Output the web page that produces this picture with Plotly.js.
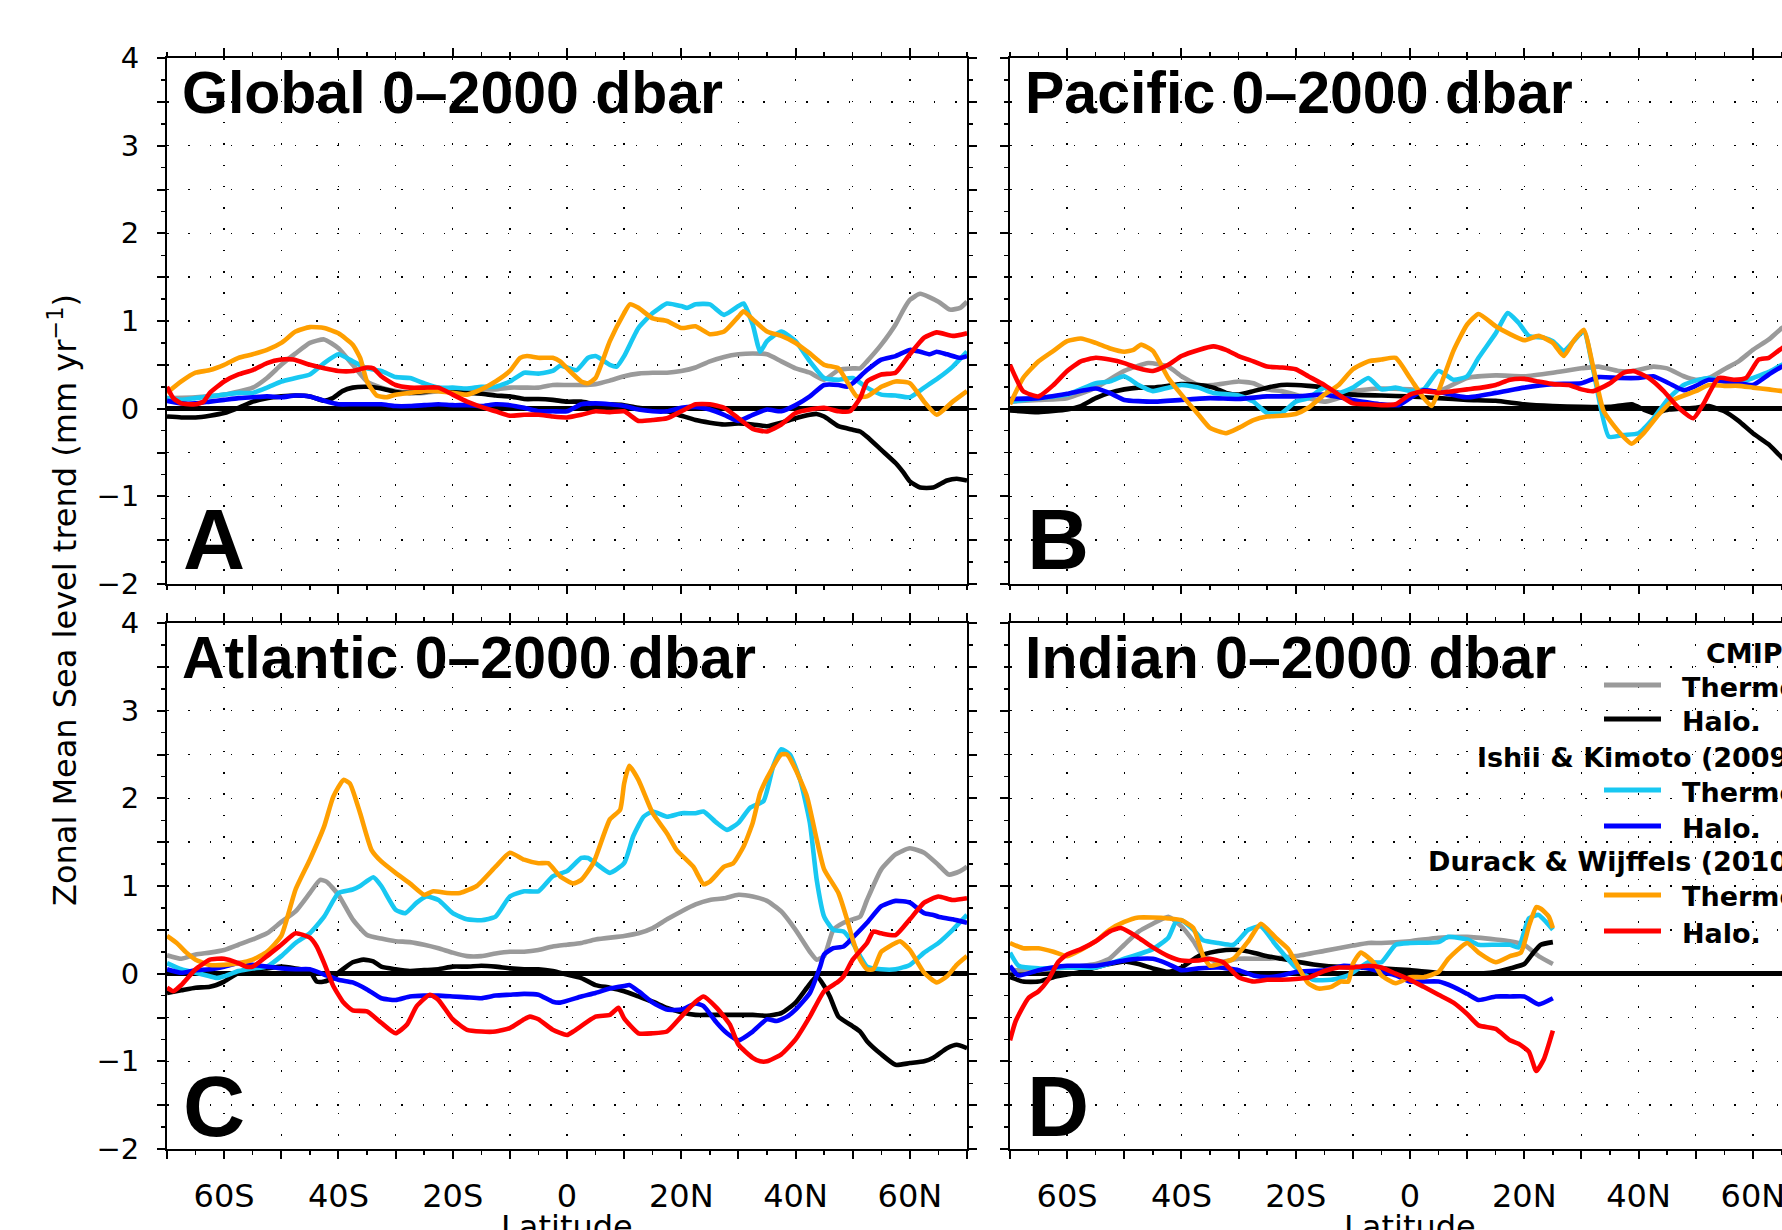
<!DOCTYPE html>
<html>
<head>
<meta charset="utf-8">
<script src="https://cdn.plot.ly/plotly-3.0.1.min.js"></script>
<style>
html,body{margin:0;padding:0;overflow:hidden;background:#fff;}
#chart{width:1850px;height:1300px;}
</style>
</head>
<body>
<div id="chart"></div>
<script>
// ---------------- DATA: [latitude, trend (mm/yr)] ----------------
// Panel A: Global 0-2000 dbar
const gCmipThermo = [[-70,.12],[-65,.13],[-60,.16],[-55,.24],[-52.5,.35],[-50,.5],[-47.5,.63],[-45,.75],[-42.5,.79],[-40,.69],[-37.5,.5],[-35,.31],[-32.5,.24],[-30,.2],[-27.5,.18],[-25,.18],[-22.5,.2],[-20,.2],[-17.5,.2],[-15,.22],[-12.5,.22],[-10,.24],[-7.5,.24],[-5,.24],[-2.5,.27],[0,.27],[2.5,.27],[5,.28],[7.5,.32],[10,.37],[12.5,.4],[15,.41],[17.5,.41],[20,.43],[22.5,.47],[25,.54],[27.5,.59],[30,.62],[32.5,.63],[35,.62],[37.5,.54],[40,.46],[42.5,.41],[45,.33],[47.5,.44],[50,.46],[51.3,.46],[52.5,.54],[55,.73],[57.5,.96],[58.9,1.13],[60,1.24],[61.8,1.31],[65,1.22],[67,1.13],[68.8,1.15],[70,1.22]];
const gCmipHalo = [[-70,-.09],[-67.5,-.1],[-65,-.1],[-62.5,-.08],[-60,-.05],[-57.5,.01],[-55,.08],[-52.5,.12],[-50,.14],[-47.5,.15],[-45,.14],[-42.5,.09],[-41,.12],[-39.3,.2],[-37.5,.24],[-35,.25],[-32.5,.23],[-30,.19],[-27.5,.18],[-25,.19],[-22.5,.21],[-20,.2],[-17.5,.18],[-15,.17],[-12.5,.15],[-10,.14],[-7.5,.11],[-5,.11],[-2.5,.1],[0,.08],[2.5,.08],[5,.05],[7.5,.05],[10,.04],[12.5,.01],[15,-.01],[17.5,-.03],[20,-.08],[22.5,-.13],[25,-.16],[27.5,-.18],[30,-.17],[32.5,-.18],[35,-.2],[37.5,-.16],[40,-.11],[42.5,-.07],[43.7,-.06],[45,-.09],[47.5,-.2],[50,-.24],[51.3,-.26],[52.5,-.32],[55,-.47],[57.5,-.62],[58.9,-.73],[60,-.83],[61.8,-.9],[64.1,-.9],[66.5,-.82],[68.2,-.8],[70,-.82]];
const gIkThermo = [[-70,.12],[-67.5,.1],[-65,.12],[-62.5,.14],[-60,.16],[-57.5,.18],[-55,.18],[-52.5,.24],[-50,.31],[-47.5,.35],[-45,.39],[-42.5,.52],[-40,.62],[-37.5,.54],[-35,.46],[-32.5,.43],[-30,.36],[-27.5,.35],[-25,.29],[-22.5,.24],[-20,.24],[-17.5,.23],[-15,.25],[-12.5,.25],[-10,.31],[-7.5,.41],[-5,.4],[-2.5,.43],[-1.2,.49],[0,.47],[1.7,.44],[3.7,.58],[5,.6],[7.5,.5],[8.7,.48],[10,.6],[12.5,.92],[15,1.09],[17.5,1.2],[20,1.17],[21,1.15],[22.5,1.19],[25,1.19],[27.5,1.07],[30,1.17],[30.9,1.2],[32.5,.96],[33.8,.65],[35,.77],[37.5,.88],[40,.77],[42.5,.54],[45,.35],[47.5,.33],[50,.35],[52.5,.24],[55,.16],[57.5,.15],[60,.13],[62.5,.24],[65,.35],[67.5,.48],[70,.65]];
const gIkHalo = [[-70,.09],[-67.5,.06],[-65,.06],[-62.5,.08],[-60,.1],[-57.5,.12],[-55,.13],[-52.5,.14],[-50,.13],[-47.5,.15],[-45,.14],[-42.5,.09],[-40,.05],[-37.5,.05],[-35,.05],[-32.5,.05],[-30,.03],[-27.5,.03],[-25,.04],[-22.5,.05],[-20,.04],[-17.5,.04],[-15,.03],[-12.5,.05],[-10,.04],[-7.5,.01],[-5,-.03],[-2.5,-.03],[0,-.03],[2.5,.05],[5,.06],[7.5,.05],[10,.03],[12.5,-.01],[15,-.03],[17.5,-.03],[20,.01],[22.5,.02],[25,-.01],[27.5,-.07],[30,-.14],[32.5,-.07],[35,-.01],[37.5,-.03],[40,.04],[42.5,.14],[45,.27],[47.5,.27],[49,.25],[50,.29],[52.5,.44],[55,.56],[57.5,.6],[60,.67],[61.8,.65],[63.5,.62],[64.7,.65],[66.5,.62],[68.8,.58],[70,.6]];
const gDwThermo = [[-70,.18],[-67.5,.31],[-65,.41],[-62.5,.44],[-60,.5],[-57.5,.58],[-55,.62],[-52.5,.67],[-50,.75],[-47.5,.88],[-45,.93],[-42.5,.92],[-40,.86],[-37.5,.73],[-36.2,.58],[-35,.31],[-33.3,.15],[-31.6,.13],[-30,.16],[-27.5,.18],[-25,.2],[-22.5,.2],[-20,.18],[-17.5,.16],[-15,.22],[-12.5,.31],[-10,.43],[-8.2,.58],[-7,.6],[-5,.58],[-2.5,.58],[-1.2,.54],[0,.46],[2.5,.31],[3.7,.29],[5,.35],[7.5,.77],[10,1.09],[11,1.19],[12.5,1.15],[15,1.03],[17.5,1.0],[20,.92],[22.5,.94],[25,.85],[27.5,.88],[30,1.05],[30.9,1.11],[32.5,1.02],[35,.88],[37.5,.83],[40,.75],[42.5,.63],[45,.5],[47.5,.46],[49,.31],[50.7,.14],[52.5,.14],[55,.25],[57.5,.31],[60,.29],[62.5,.08],[64.7,-.07],[67.5,.08],[70,.2]];
const gDwHalo = [[-70,.25],[-68.9,.12],[-67.5,.06],[-65,.05],[-63.6,.08],[-62.5,.18],[-60,.31],[-57.5,.39],[-55,.44],[-52.5,.52],[-50,.56],[-47.9,.56],[-45,.5],[-42.5,.46],[-40,.43],[-37.5,.43],[-35,.47],[-33.9,.46],[-32.5,.37],[-30,.27],[-27.5,.24],[-25,.24],[-22.5,.24],[-20,.16],[-17.5,.08],[-15,.02],[-12.5,-.03],[-10,-.08],[-7.5,-.07],[-5,-.07],[-2.5,-.09],[0,-.1],[2.5,-.07],[5,-.03],[7.5,-.04],[10,-.03],[12.5,-.14],[15,-.13],[17.5,-.11],[20,-.03],[22.5,.05],[25,.05],[27.5,.01],[30,-.11],[32.5,-.23],[35,-.26],[37.5,-.18],[40,-.05],[42.5,-.01],[45,.01],[47.5,-.03],[49.5,-.03],[51.3,.12],[52.5,.31],[55,.39],[57.5,.41],[60,.62],[62.5,.81],[64.7,.87],[67.5,.83],[70,.86]];

// Panel B: Pacific 0-2000 dbar
const pCmipThermo = [[-70,.08],[-65,.1],[-60,.12],[-55,.24],[-50,.43],[-45.8,.52],[-42.3,.48],[-40,.37],[-37,.27],[-34.4,.27],[-30,.31],[-27.4,.29],[-25,.22],[-22.5,.2],[-20,.16],[-17.8,.12],[-15,.08],[-12.5,.12],[-10,.2],[-5,.23],[0,.22],[5,.2],[10,.35],[15,.38],[20,.37],[25,.41],[30,.46],[33,.48],[36.5,.43],[39.1,.43],[42.6,.48],[45,.46],[47.9,.37],[50,.33],[52.3,.35],[55,.45],[57.5,.54],[60,.67],[62.8,.79],[65.1,.92],[67.5,1.0],[70,1.05]];
const pCmipHalo = [[-70,-.02],[-65,-.04],[-60,-.01],[-57.6,.03],[-55,.12],[-52.6,.18],[-50,.22],[-47.5,.24],[-45,.24],[-42.3,.26],[-40,.28],[-37,.27],[-34.4,.24],[-32.2,.18],[-30,.16],[-27.4,.2],[-25,.24],[-22.5,.27],[-20,.27],[-17.8,.26],[-15,.24],[-12.5,.18],[-10,.16],[-5,.15],[0,.14],[5,.12],[10,.1],[15,.09],[20,.05],[25,.03],[30,.02],[35,.02],[38.8,.05],[40.9,-.01],[42.6,-.05],[45.3,-.01],[50,.01],[52.3,.03],[55,-.03],[57.5,-.14],[60,-.28],[62.8,-.41],[65.1,-.56],[67.5,-.68],[70,-.78]];
const pIkThermo = [[-70,.08],[-65,.12],[-60,.16],[-55,.29],[-52.6,.31],[-50,.37],[-47.5,.27],[-45,.2],[-42.3,.24],[-40,.27],[-37,.24],[-34.4,.18],[-30,.15],[-27.4,.08],[-25,-.05],[-22.5,-.05],[-20,.08],[-17.8,.12],[-15,.24],[-12.5,.18],[-10,.24],[-7.3,.35],[-5,.22],[-2.5,.24],[0,.2],[2.4,.22],[5,.43],[7.6,.33],[10,.37],[12,.58],[15,.86],[17.1,1.09],[19,.98],[20.8,.83],[23.4,.81],[25,.77],[26.9,.66],[30.4,.88],[32.1,.43],[34.8,-.32],[37.4,-.3],[40,-.28],[42.6,-.11],[45.3,.12],[47.9,.27],[50,.32],[52.3,.35],[55,.31],[57.5,.29],[60,.35],[62.8,.42],[65.1,.5],[67.5,.55],[70,.6]];
const pIkHalo = [[-70,.11],[-65,.12],[-60,.17],[-55,.23],[-52.6,.18],[-50,.1],[-45,.08],[-40,.1],[-35,.12],[-30,.11],[-25,.14],[-20,.14],[-15,.16],[-10,.1],[-5,.05],[-2,.04],[0,.12],[2.4,.21],[5,.19],[10,.13],[15,.18],[20,.24],[25,.28],[30,.29],[33,.36],[36.5,.35],[40,.35],[42.6,.37],[45.3,.29],[47.9,.21],[50,.26],[52.3,.33],[55,.31],[57.5,.29],[60,.27],[62.8,.39],[65.1,.48],[67.5,.52],[70,.55]];
const pDwThermo = [[-70,.05],[-67.7,.35],[-65,.54],[-62.4,.66],[-60,.77],[-57.6,.8],[-55,.75],[-52.6,.69],[-50,.65],[-48.4,.67],[-47.1,.73],[-45,.66],[-42.3,.35],[-40,.16],[-37,-.07],[-35,-.22],[-32.2,-.28],[-30,-.22],[-27.4,-.13],[-25,-.09],[-22.5,-.08],[-20,-.06],[-17.8,.01],[-15,.16],[-12.5,.27],[-10,.45],[-7.3,.54],[-5,.56],[-2.5,.58],[0,.35],[2.4,.12],[3.8,.03],[5,.2],[7.6,.66],[10,.96],[12,1.08],[15,.94],[17.5,.85],[20,.78],[22.5,.83],[25,.75],[26.9,.6],[28.6,.77],[30.4,.9],[32.1,.46],[33.9,-.03],[36.5,-.26],[38.8,-.4],[40.9,-.28],[43.5,-.07],[46.1,.1],[50,.2],[52.3,.27],[55,.26],[57.5,.26],[60,.24],[62.8,.22],[65.1,.2],[67.5,.2],[70,.2]];
const pDwHalo = [[-70,.5],[-67.7,.2],[-65,.14],[-62.4,.27],[-60,.43],[-57.6,.54],[-55,.58],[-52.6,.56],[-50,.52],[-47.5,.46],[-45,.43],[-42.3,.5],[-40,.6],[-37,.67],[-34.4,.71],[-32.2,.67],[-30,.6],[-27.4,.54],[-25,.48],[-22.5,.47],[-20,.45],[-17.8,.37],[-15,.27],[-12.5,.16],[-10,.06],[-7.3,.05],[-5,.04],[-2.5,.05],[0,.16],[2.4,.2],[5,.18],[7.6,.2],[10,.22],[12.5,.24],[15,.27],[17.5,.33],[20,.34],[22.5,.31],[25,.28],[27.8,.27],[30,.22],[32.1,.2],[35,.29],[37.4,.41],[39.1,.43],[41.8,.35],[44.4,.2],[47,.01],[49.6,-.11],[51.4,.06],[54,.35],[56.7,.33],[58.8,.35],[61,.56],[62.8,.58],[65.1,.69],[67.5,.75],[70,.8]];

// Panel C: Atlantic 0-2000 dbar
const aCmipThermo = [[-70,.21],[-67.5,.17],[-65,.22],[-62.5,.24],[-60,.27],[-57.5,.33],[-55,.39],[-52.5,.46],[-50,.59],[-47.5,.71],[-45,.92],[-43.2,1.07],[-42.1,1.05],[-40,.9],[-37.5,.62],[-35,.44],[-32.5,.4],[-30,.37],[-27.5,.36],[-25,.33],[-22.5,.29],[-20,.24],[-17.5,.2],[-15,.2],[-12.5,.23],[-10,.25],[-7.5,.25],[-5,.27],[-2.5,.31],[0,.33],[2.5,.35],[5,.39],[10,.43],[12.5,.46],[15,.52],[17.5,.62],[20,.71],[22.5,.79],[25,.84],[27.5,.86],[30,.9],[32.5,.88],[35,.83],[37.5,.71],[40,.5],[42.5,.25],[43.7,.16],[45,.2],[46.6,.5],[48.4,.58],[50,.62],[51.3,.65],[52.5,.84],[55,1.19],[57.5,1.36],[60,1.43],[62.5,1.38],[65,1.24],[66.8,1.13],[68.8,1.17],[70,1.22]];
const aCmipHalo = [[-70,-.22],[-67.5,-.19],[-65,-.16],[-62.5,-.15],[-60,-.09],[-57.5,.01],[-55,.05],[-52.5,.06],[-50,.08],[-47.5,.06],[-45,.03],[-43.8,-.09],[-42.5,-.09],[-40.9,-.05],[-40,.01],[-37.5,.13],[-35.6,.16],[-33.9,.14],[-32.5,.08],[-30,.05],[-27.5,.03],[-25,.04],[-22.5,.05],[-20,.08],[-17.5,.08],[-15,.09],[-12.5,.08],[-10,.06],[-7.5,.05],[-5,.05],[-2.5,.03],[0,-.01],[2.5,-.05],[5,-.13],[7.5,-.16],[10,-.2],[12.5,-.26],[15,-.32],[17.5,-.39],[20,-.44],[22.5,-.47],[25,-.47],[27.5,-.47],[30,-.47],[32.5,-.47],[35,-.48],[37.5,-.45],[40,-.33],[42,-.16],[43.7,-.03],[45,-.14],[46,-.26],[47.5,-.49],[50,-.6],[51.3,-.66],[52.5,-.77],[55,-.92],[57.5,-1.04],[60,-1.02],[62.5,-1.0],[64.1,-.96],[66.5,-.85],[68.2,-.81],[70,-.85]];
const aIkThermo = [[-70,.12],[-67.5,.05],[-65,.01],[-62.5,-.03],[-61.3,-.05],[-60,-.03],[-57.5,.03],[-55,.06],[-52.5,.08],[-50,.2],[-47.5,.35],[-45,.46],[-42.5,.65],[-40,.92],[-37.5,.96],[-36.2,1.0],[-33.9,1.1],[-32.5,1.0],[-30,.73],[-28.3,.69],[-26.3,.81],[-24.6,.88],[-22.5,.84],[-20,.69],[-17.5,.62],[-15,.61],[-12.5,.65],[-10,.88],[-7.5,.94],[-5,.94],[-2.5,1.11],[0,1.17],[2.5,1.32],[3.7,1.32],[5,1.26],[7.5,1.15],[10,1.26],[11.6,1.57],[13.4,1.79],[15,1.85],[17.5,1.79],[20,1.83],[22.5,1.83],[23.9,1.85],[26.2,1.72],[28,1.64],[30,1.72],[32,1.89],[34.4,1.97],[36.1,2.37],[37.5,2.56],[39,2.5],[40.8,2.21],[42.5,1.72],[43.7,1.07],[45,.65],[46.6,.5],[48.4,.48],[50,.35],[51.3,.2],[52.5,.08],[55,.05],[57.5,.05],[60,.1],[62.5,.24],[65,.35],[67.5,.5],[70,.67]];
const aIkHalo = [[-70,.05],[-67.5,.01],[-65,.04],[-62.5,.05],[-60,.08],[-57.5,.12],[-55,.1],[-52.5,.08],[-50,.06],[-47.5,.05],[-45,.05],[-42.5,-.01],[-40,-.07],[-37.5,-.1],[-35,-.18],[-32.5,-.28],[-30,-.3],[-27.5,-.26],[-25,-.25],[-22.5,-.25],[-20,-.26],[-17.5,-.27],[-15,-.28],[-12.5,-.25],[-10,-.24],[-7.5,-.23],[-5,-.24],[-2.5,-.32],[-1.2,-.33],[2.5,-.26],[5,-.22],[7.5,-.17],[10,-.14],[10.9,-.13],[12.5,-.2],[15,-.33],[17.5,-.41],[20,-.41],[22.5,-.34],[23.9,-.37],[26.2,-.56],[28,-.68],[30,-.76],[32.5,-.66],[35,-.52],[36.7,-.54],[38.5,-.49],[40,-.41],[42.5,-.22],[44.3,.08],[45,.22],[46.6,.29],[48.4,.31],[50,.41],[52.5,.58],[55,.77],[57.5,.83],[60,.81],[62.5,.69],[64.1,.67],[65,.65],[67.5,.62],[70,.58]];
const aDwThermo = [[-70,.43],[-68.3,.35],[-66.6,.24],[-65,.16],[-62.5,.1],[-60,.1],[-57.5,.12],[-55,.16],[-52.5,.25],[-50,.43],[-47.5,.96],[-45,1.3],[-42.5,1.68],[-40.9,2.02],[-39.1,2.21],[-38,2.17],[-36.2,1.83],[-34.2,1.41],[-32.5,1.28],[-30,1.15],[-27.5,1.03],[-25,.9],[-23.4,.94],[-21,.92],[-18.7,.92],[-15.8,1.0],[-12.5,1.22],[-10,1.38],[-7.5,1.3],[-5,1.26],[-3.3,1.26],[-1.2,1.11],[1.1,1.03],[2.5,1.07],[4.6,1.26],[7.5,1.76],[9.3,1.87],[10,2.17],[10.9,2.37],[12.5,2.21],[15,1.83],[17.5,1.6],[19.2,1.41],[22.1,1.22],[23.9,1.02],[25,1.05],[27.5,1.22],[29.1,1.26],[30.9,1.45],[32.5,1.72],[33.8,2.06],[35,2.23],[37.5,2.5],[38.5,2.5],[40,2.33],[42,2.02],[43.7,1.53],[45,1.19],[47.5,.92],[49,.62],[50,.39],[51.3,.16],[52.5,.05],[53.6,.05],[55,.25],[57.5,.35],[58.3,.37],[60,.27],[62.5,.01],[64.7,-.1],[66.5,-.03],[68.2,.1],[70,.2]];
const aDwHalo = [[-70,-.16],[-68.9,-.2],[-67.5,-.13],[-65,.05],[-62.5,.16],[-60,.17],[-57.5,.12],[-56.1,.08],[-55,.08],[-52.5,.2],[-50,.33],[-47.5,.46],[-45,.41],[-43.8,.31],[-42.5,.12],[-40.9,-.14],[-39.1,-.33],[-37.5,-.42],[-35,-.43],[-32.5,-.56],[-30,-.68],[-28,-.58],[-26.3,-.37],[-24,-.24],[-22.5,-.3],[-20,-.52],[-17.5,-.64],[-15,-.66],[-12.5,-.66],[-10,-.62],[-7.5,-.52],[-6.5,-.49],[-5,-.52],[-2.5,-.64],[0,-.7],[1.1,-.66],[5,-.49],[7.5,-.47],[9,-.39],[10,-.51],[12.5,-.68],[15,-.68],[17.5,-.66],[20,-.49],[22.5,-.32],[23.9,-.26],[26.2,-.39],[28.5,-.58],[30,-.81],[32.5,-.96],[33.8,-1.0],[35,-1.0],[37.5,-.92],[40,-.75],[42.5,-.49],[45,-.2],[47.5,-.09],[48.4,-.03],[50,.16],[52.5,.35],[53.6,.48],[55,.46],[57.5,.44],[60,.62],[62.5,.81],[65,.88],[67.5,.84],[70,.86]];

// Panel D: Indian 0-2000 dbar
const iCmipThermo = [[-70,.04],[-65,.04],[-60,.07],[-55,.11],[-52.6,.17],[-50,.33],[-47.5,.48],[-45,.57],[-42.3,.65],[-40,.54],[-37.9,.37],[-36.2,.2],[-33.5,.13],[-30,.17],[-25,.17],[-20,.2],[-15,.26],[-10,.32],[-7.3,.35],[-5,.35],[0,.37],[5,.41],[10,.42],[15,.39],[17.5,.37],[20,.33],[22.5,.2],[25,.11]];
const iCmipHalo = [[-70,-.04],[-67.7,-.09],[-65,-.09],[-62.4,-.04],[-60,-.01],[-57.6,.02],[-55,.07],[-52.6,.11],[-50,.14],[-47.5,.11],[-45,.06],[-42.3,.02],[-40,.07],[-37,.2],[-35,.24],[-32.2,.27],[-30,.27],[-27.4,.24],[-25,.2],[-22.5,.17],[-20,.14],[-15,.09],[-10,.07],[-5,.06],[0,.04],[5,.01],[10,0],[15,.02],[17.5,.06],[20,.11],[21.6,.24],[22.9,.33],[25,.36]];
const iIkThermo = [[-70,.24],[-68.5,.09],[-65,.06],[-60,.07],[-55,.07],[-50,.17],[-45,.28],[-42.3,.41],[-41,.59],[-40,.61],[-37.9,.5],[-36.2,.38],[-33.5,.35],[-30.9,.33],[-28.3,.5],[-26.1,.54],[-23.5,.33],[-20,.07],[-16.9,-.07],[-13.8,-.07],[-10.8,-.02],[-7.3,.13],[-5,.13],[-2.5,.33],[0,.35],[5,.36],[6.7,.42],[10,.39],[12,.33],[15,.33],[17.5,.33],[19,.3],[20.8,.63],[22.5,.67],[23.8,.59],[25,.5]];
const iIkHalo = [[-70,.09],[-68.5,-.02],[-65,.04],[-60,.09],[-55,.09],[-50,.15],[-47.5,.17],[-45,.17],[-42.3,.11],[-40,.04],[-37,.06],[-33.5,.07],[-30,.04],[-27.4,-.02],[-25,-.04],[-22.5,-.02],[-20,.02],[-15,.04],[-11.6,.09],[-7.3,.06],[-5,.02],[-2.5,-.02],[0,-.09],[2.4,-.09],[5,-.09],[7.6,-.15],[10,-.23],[12,-.3],[15,-.26],[17.5,-.26],[20,-.26],[22.5,-.35],[25,-.28]];
const iDwThermo = [[-70,.35],[-67.7,.29],[-65,.29],[-62.4,.25],[-60,.2],[-57.6,.27],[-55,.37],[-52.6,.5],[-50,.59],[-47.5,.64],[-45,.64],[-42.3,.63],[-40,.61],[-37.9,.52],[-36.2,.2],[-35,.09],[-33.5,.11],[-30.9,.17],[-28.3,.37],[-26.1,.57],[-23.5,.41],[-21.3,.28],[-20,.13],[-17.8,-.11],[-16,-.17],[-13.8,-.15],[-12.1,-.09],[-10.8,-.09],[-10,.11],[-8.6,.24],[-6.4,.13],[-5,-.02],[-2.5,-.11],[0,-.04],[2.4,-.04],[5,.02],[6.7,.17],[10,.35],[12,.24],[15,.13],[17.5,.2],[19.4,.24],[20.8,.54],[22.1,.76],[22.9,.74],[24.3,.65],[25,.52]];
const iDwHalo = [[-70,-.76],[-69,-.54],[-66.8,-.28],[-65,-.2],[-63.3,-.07],[-61.6,.13],[-60,.22],[-57.6,.28],[-55,.37],[-52.6,.48],[-50.6,.52],[-47.5,.41],[-45,.3],[-42.3,.2],[-40,.15],[-37,.15],[-35,.17],[-32.7,.13],[-30,-.04],[-27.4,-.09],[-25,-.07],[-22.5,-.07],[-20,-.06],[-17.5,-.04],[-15,.03],[-12.5,.07],[-10,.07],[-7.3,.09],[-5,.07],[-2.5,0],[0,-.07],[2.4,-.15],[5,-.24],[7.6,-.33],[10,-.46],[12,-.59],[15,-.63],[17.5,-.76],[19,-.8],[20.8,-.89],[22.1,-1.11],[23.4,-.98],[25,-.65]];

// Labels
const panelTitles = ['Global 0\u20132000 dbar','Pacific 0\u20132000 dbar','Atlantic 0\u20132000 dbar','Indian 0\u20132000 dbar'];
const panelLetters = ['A','B','C','D'];
const seriesNames = ['Thermo.','Halo.','Thermo.','Halo.','Thermo.','Halo.'];
const groupTitles = ['CMIP5','Ishii & Kimoto (2009)','Durack & Wijffels (2010)'];
const latTickVals = [-70,-60,-50,-40,-30,-20,-10,0,10,20,30,40,50,60,70];
const latTickText = ['','60S','','40S','','20S','','0','','20N','','40N','','60N',''];
const yTickVals = [-2,-1.5,-1,-0.5,0,0.5,1,1.5,2,2.5,3,3.5,4];
const yTickText = ['\u22122','','\u22121','','0','','1','','2','','3','','4'];

// ---------------- STYLE / LAYOUT ----------------
const W = 1850, H = 1300;
const fx = p => p / W, fy = p => 1 - p / H;
const colors = ['#9a9a9a','#000000','#18c8f2','#0000ff','#ff9f00','#ff0000'];
const panels = [
  [gCmipThermo,gCmipHalo,gIkThermo,gIkHalo,gDwThermo,gDwHalo],
  [pCmipThermo,pCmipHalo,pIkThermo,pIkHalo,pDwThermo,pDwHalo],
  [aCmipThermo,aCmipHalo,aIkThermo,aIkHalo,aDwThermo,aDwHalo],
  [iCmipThermo,iCmipHalo,iIkThermo,iIkHalo,iDwThermo,iDwHalo]
];
const axisIds = [['x','y'],['x2','y2'],['x3','y3'],['x4','y4']];

const traces = [];
panels.forEach((series, p) => {
  series.forEach((s, k) => {
    traces.push({
      type: 'scatter', mode: 'lines',
      x: s.map(d => d[0]), y: s.map(d => d[1]),
      xaxis: axisIds[p][0], yaxis: axisIds[p][1],
      name: seriesNames[k], showlegend: false,
      line: {color: colors[k], width: 4.6, shape: 'spline', smoothing: 0.5},
      hoverinfo: 'skip'
    });
  });
});

function xAxis(domain, anchor, labels) {
  return {
    domain: domain, anchor: anchor, range: [-70, 70],
    tickmode: 'array', tickvals: latTickVals, ticktext: latTickText,
    showticklabels: labels, tickfont: {family: 'DejaVu Sans, sans-serif', size: 32, color: '#000'}, ticklabelstandoff: 10,
    ticks: 'outside', ticklen: 8, tickwidth: 2, tickcolor: '#000',
    minor: {dtick: 5, tick0: 0, ticks: 'outside', ticklen: 4, tickwidth: 1.5, tickcolor: '#000', showgrid: false},
    showline: true, linecolor: '#000', linewidth: 2, mirror: 'allticks',
    showgrid: true, gridcolor: '#000', gridwidth: 1.4, griddash: '1.5px,19.8px',
    zeroline: false, fixedrange: true, layer: 'above traces'
  };
}
function yAxis(domain, anchor, labels) {
  return {
    domain: domain, anchor: anchor, range: [-2, 4],
    tickmode: 'array', tickvals: yTickVals, ticktext: yTickText,
    showticklabels: labels, tickfont: {family: 'DejaVu Sans, sans-serif', size: 29, color: '#000'}, ticklabelstandoff: 12,
    ticks: 'outside', ticklen: 8, tickwidth: 2, tickcolor: '#000',
    minor: {dtick: 0.25, tick0: 0, ticks: 'outside', ticklen: 4, tickwidth: 1.5, tickcolor: '#000', showgrid: false},
    showline: true, linecolor: '#000', linewidth: 2, mirror: 'allticks',
    showgrid: true, gridcolor: '#000', gridwidth: 1.4, griddash: '1.5px,19.8px',
    zeroline: true, zerolinecolor: '#000', zerolinewidth: 4.5, fixedrange: true, layer: 'above traces'
  };
}
const xL = [fx(167), fx(967)], xR = [fx(1010), fx(1810)];
const yT = [fy(584), fy(58)], yB = [fy(1149), fy(623)];

const titleFont = {family: 'Liberation Sans, Arial, sans-serif', size: 59, color: '#000', weight: 'bold'};
const letterFont = {family: 'Liberation Sans, Arial, sans-serif', size: 86, color: '#000', weight: 'bold'};
const legFont = {family: 'DejaVu Sans, sans-serif', size: 27, color: '#000', weight: 'bold'};
const annotations = [];
const shapes = [];
const titlePos = [[180, 93], [1023, 93], [180, 658], [1023, 658]];
const letterPos = [[181, 539], [1025, 539], [181, 1106], [1025, 1106]];
for (let p = 0; p < 4; p++) {
  annotations.push({xref: 'paper', yref: 'paper', x: fx(titlePos[p][0]), y: fy(titlePos[p][1]),
    xanchor: 'left', yanchor: 'middle', text: panelTitles[p], showarrow: false, font: titleFont});
  annotations.push({xref: 'paper', yref: 'paper', x: fx(letterPos[p][0]), y: fy(letterPos[p][1]),
    xanchor: 'left', yanchor: 'middle', text: panelLetters[p], showarrow: false, font: letterFont});
}
// Legend (inside panel D): group headers, key lines, entry labels
const groupY = [653, 757, 861];
groupTitles.forEach((t, i) => {
  annotations.push({xref: 'paper', yref: 'paper', x: fx(1803), y: fy(groupY[i]),
    xanchor: 'right', yanchor: 'middle', text: t, showarrow: false, font: legFont});
});
const entryY = [685, 719, 790, 826, 895, 931];
seriesNames.forEach((n, k) => {
  shapes.push({type: 'line', xref: 'paper', yref: 'paper',
    x0: fx(1604), x1: fx(1661), y0: fy(entryY[k]), y1: fy(entryY[k]),
    line: {color: colors[k], width: 5}});
  annotations.push({xref: 'paper', yref: 'paper', x: fx(1680), y: fy(entryY[k] + 2),
    xanchor: 'left', yanchor: 'middle', text: n, showarrow: false, font: legFont});
});
annotations.push({xref: 'paper', yref: 'paper', x: fx(63), y: fy(600), textangle: -90,
  xanchor: 'center', yanchor: 'middle', showarrow: false,
  text: 'Zonal Mean Sea level trend (mm yr<sup>\u22121</sup>)',
  font: {family: 'DejaVu Sans, sans-serif', size: 32, color: '#000'}});
[567, 1410].forEach(xc => {
  annotations.push({xref: 'paper', yref: 'paper', x: fx(xc), y: fy(1227),
    xanchor: 'center', yanchor: 'middle', showarrow: false, text: 'Latitude',
    font: {family: 'DejaVu Sans, sans-serif', size: 32, color: '#000'}});
});

const layout = {
  width: W, height: H,
  margin: {l: 0, r: 0, t: 0, b: 0, pad: 0},
  paper_bgcolor: '#fff', plot_bgcolor: 'rgba(0,0,0,0)',
  showlegend: false,
  xaxis: xAxis(xL, 'y', false), yaxis: yAxis(yT, 'x', true),
  xaxis2: xAxis(xR, 'y2', false), yaxis2: yAxis(yT, 'x2', false),
  xaxis3: xAxis(xL, 'y3', true), yaxis3: yAxis(yB, 'x3', true),
  xaxis4: xAxis(xR, 'y4', true), yaxis4: yAxis(yB, 'x4', false),
  annotations: annotations,
  shapes: shapes
};
Plotly.newPlot('chart', traces, layout, {displayModeBar: false, staticPlot: true});
</script>
</body>
</html>
